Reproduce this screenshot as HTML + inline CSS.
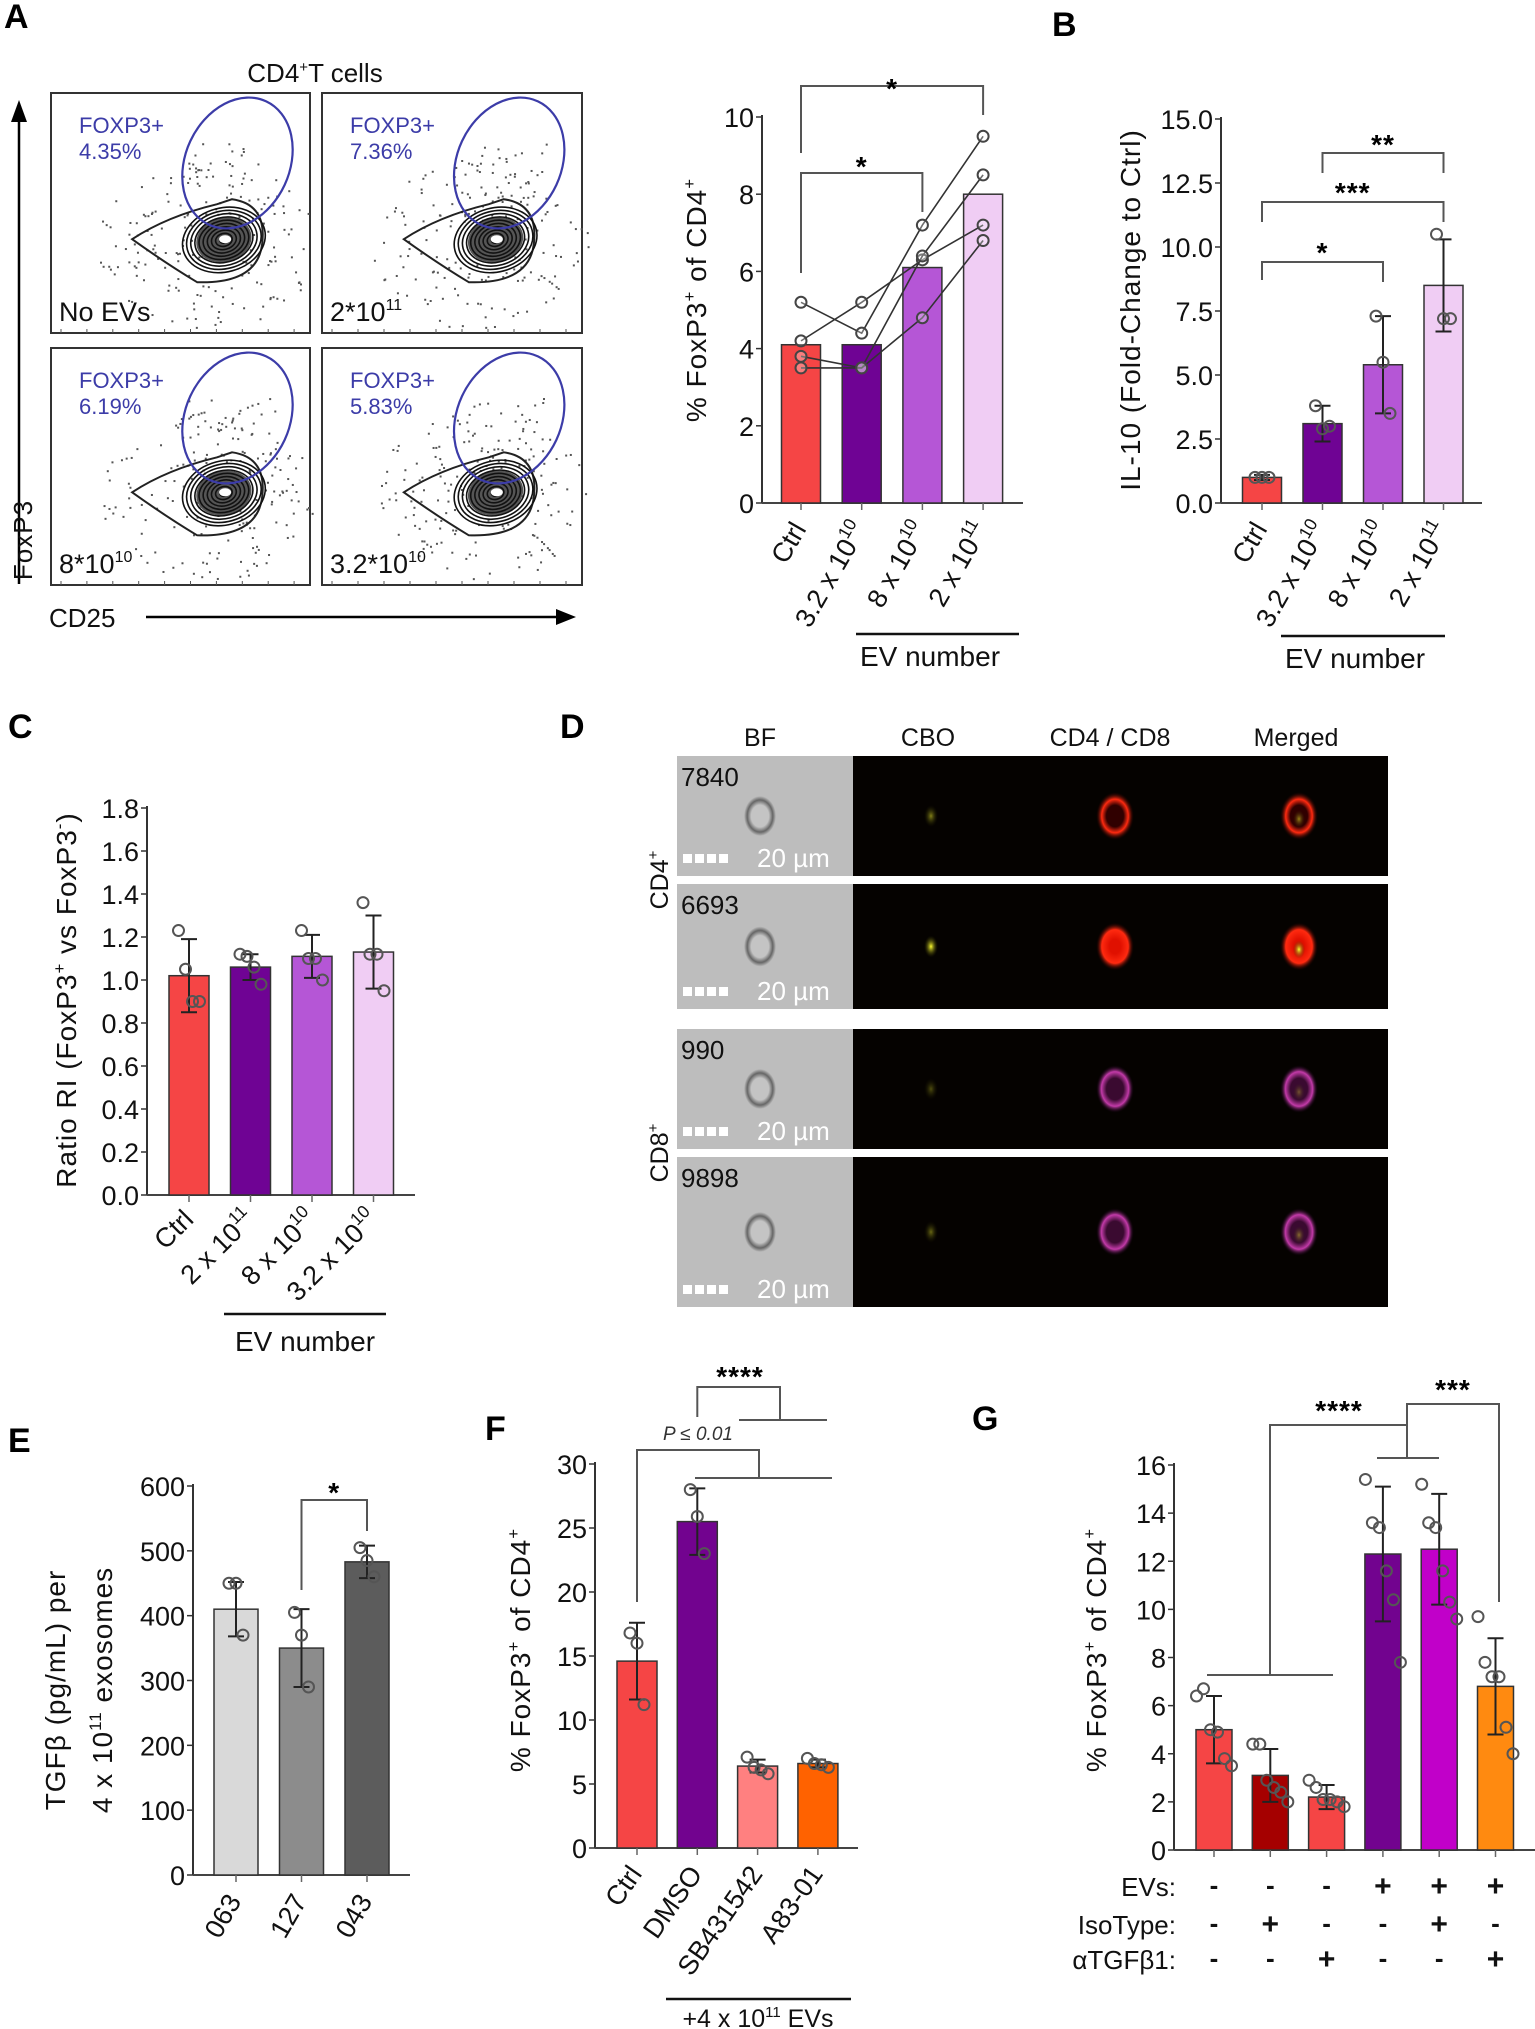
<!DOCTYPE html>
<html><head><meta charset="utf-8">
<style>
html,body{margin:0;padding:0;background:#fff;}
svg{display:block;font-family:"Liberation Sans",Arial,sans-serif;}
</style></head>
<body>
<svg id="fig" xmlns="http://www.w3.org/2000/svg" width="1535" height="2029" viewBox="0 0 1535 2029">
<defs>
<radialGradient id="gRed"><stop offset="0.45" stop-color="#300000"/><stop offset="0.7" stop-color="#ff2a10"/><stop offset="1" stop-color="#200000" stop-opacity="0"/></radialGradient>
<radialGradient id="gRedFull"><stop offset="0.3" stop-color="#e01000"/><stop offset="0.7" stop-color="#ff2a10"/><stop offset="1" stop-color="#200000" stop-opacity="0"/></radialGradient>
<radialGradient id="gMag"><stop offset="0.45" stop-color="#3a0a30"/><stop offset="0.72" stop-color="#c23aa8"/><stop offset="1" stop-color="#100010" stop-opacity="0"/></radialGradient>
<radialGradient id="gYel"><stop offset="0" stop-color="#ffff30"/><stop offset="1" stop-color="#303000" stop-opacity="0"/></radialGradient>
<radialGradient id="gBF"><stop offset="0.55" stop-color="#c4c4c4"/><stop offset="0.8" stop-color="#666"/><stop offset="1" stop-color="#bdbdbd"/></radialGradient>
</defs>
<g id="root"></g>
</svg>
<script>
// ---------- Chart data ----------
const aCats = ["Ctrl", "3.2 x 10", "8 x 10", "2 x 10"];
const aExps = ["", "10", "10", "11"];
const aMeans = [4.1, 4.1, 6.1, 8.0];
const aSubj1 = [5.2, 4.4, 7.2, 9.5];
const aSubj2 = [4.2, 5.2, 6.3, 7.2];
const aSubj3 = [3.8, 3.5, 6.4, 8.5];
const aSubj4 = [3.5, 3.5, 4.8, 6.8];
const aTicks = [0, 2, 4, 6, 8, 10];
const bCats = ["Ctrl", "3.2 x 10", "8 x 10", "2 x 10"];
const bExps = ["", "10", "10", "11"];
const bMeans = [1.0, 3.1, 5.4, 8.5];
const bErr = [0.1, 0.7, 1.9, 1.8];
const bPts = [[1.0, 1.0, 1.0], [3.8, 2.9, 3.0], [7.3, 5.5, 3.5], [10.5, 7.2, 7.2]];
const bTicks = [0, 2.5, 5, 7.5, 10, 12.5, 15];
const bTickLabels = ["0.0", "2.5", "5.0", "7.5", "10.0", "12.5", "15.0"];
const cCats = ["Ctrl", "2 x 10", "8 x 10", "3.2 x 10"];
const cExps = ["", "11", "10", "10"];
const cMeans = [1.02, 1.06, 1.11, 1.13];
const cErr = [0.17, 0.06, 0.1, 0.17];
const cPts = [[1.23, 1.05, 0.9, 0.9], [1.12, 1.11, 1.06, 0.98], [1.23, 1.1, 1.1, 1.0], [1.36, 1.12, 1.12, 0.95]];
const cTicks = [0, 0.2, 0.4, 0.6, 0.8, 1.0, 1.2, 1.4, 1.6, 1.8];
const cTickLabels = ["0.0", "0.2", "0.4", "0.6", "0.8", "1.0", "1.2", "1.4", "1.6", "1.8"];
const eCats = ["063", "127", "043"];
const eMeans = [410, 350, 483];
const eErr = [42, 60, 25];
const ePts = [[450, 450, 370], [405, 370, 290], [505, 485, 460]];
const eTicks = [0, 100, 200, 300, 400, 500, 600];
const fCats = ["Ctrl", "DMSO", "SB431542", "A83-01"];
const fMeans = [14.6, 25.5, 6.4, 6.6];
const fErr = [3.0, 2.6, 0.5, 0.3];
const fPts = [[16.8, 16.0, 11.2], [28.0, 25.9, 23.0], [7.1, 6.3, 6.1, 5.8], [7.0, 6.6, 6.5, 6.3]];
const fTicks = [0, 5, 10, 15, 20, 25, 30];
const gMeans = [5.0, 3.1, 2.2, 12.3, 12.5, 6.8];
const gErr = [1.4, 1.1, 0.5, 2.8, 2.3, 2.0];
const gPts = [[6.4, 6.7, 5.0, 4.9, 3.8, 3.5], [4.4, 4.4, 2.9, 2.6, 2.4, 2.0], [2.9, 2.6, 2.1, 2.1, 2.0, 1.8],
              [15.4, 13.6, 13.4, 11.6, 10.4, 7.8], [15.2, 13.6, 13.4, 11.6, 10.3, 9.6], [9.7, 7.8, 7.2, 7.2, 5.1, 4.0]];
const gTicks = [0, 2, 4, 6, 8, 10, 12, 14, 16];
const gEVs = ["-", "-", "-", "+", "+", "+"];
const gIso = ["-", "+", "-", "-", "+", "-"];
const gAnti = ["-", "-", "+", "-", "-", "+"];

// ---------- helpers ----------
const NS = "http://www.w3.org/2000/svg";
const root = document.getElementById("root");
const TFS = 27;
function mk(tag, attrs, parent, text) {
  const e = document.createElementNS(NS, tag);
  for (const k in attrs) e.setAttribute(k, attrs[k]);
  if (text !== undefined) e.textContent = text;
  (parent || root).appendChild(e);
  return e;
}
function group(name, parent) {
  const g = mk("g", {}, parent);
  
  
  return g;
}
function scaleY(L) { return v => L.y0 - (v - L.min) / (L.max - L.min) * (L.y0 - L.y1); }
function cx(L, i) { return L.c0 + i * L.step; }

function drawAxes(g, L, ticks, labels) {
  const y = scaleY(L);
  const ax = mk("line", {x1: L.ax, y1: y(L.max) - 2, x2: L.ax, y2: L.y0, stroke: "#333", "stroke-width": 2}, g);
  
  
  const xa = mk("line", {x1: L.ax, y1: L.y0, x2: L.right, y2: L.y0, stroke: "#444", "stroke-width": 2}, g);
  
  
  ticks.forEach((t, i) => {
    mk("line", {x1: L.ax - 6, y1: y(t), x2: L.ax, y2: y(t), stroke: "#333", "stroke-width": 1.5}, g);
    const tl = mk("text", {x: L.ax - 8, y: y(t) + 10, "text-anchor": "end", "font-size": TFS, fill: "#111"}, g, labels ? labels[i] : String(t));
    
    
  });
}
function drawBars(g, L, means, colors) {
  const y = scaleY(L);
  means.forEach((m, i) => {
    const r = mk("rect", {x: cx(L, i) - L.bw / 2, y: y(m), width: L.bw, height: L.y0 - y(m), fill: colors[i], stroke: "#333", "stroke-width": 1.5}, g);
    
    
    mk("line", {x1: cx(L, i), y1: L.y0, x2: cx(L, i), y2: L.y0 + 7, stroke: "#666", "stroke-width": 1.5}, g);
  });
}
function drawErr(g, L, means, errs) {
  const y = scaleY(L);
  means.forEach((m, i) => {
    const x = cx(L, i);
    const e = mk("path", {d: `M${x},${y(m - errs[i])}V${y(m + errs[i])}M${x - 8},${y(m + errs[i])}H${x + 8}M${x - 8},${y(m - errs[i])}H${x + 8}`, stroke: "#222", "stroke-width": 2, fill: "none"}, g);
    
    
  });
}
function drawPts(g, L, pts) {
  const y = scaleY(L);
  pts.forEach((arr, i) => {
    const n = arr.length;
    arr.forEach((v, j) => {
      const off = n > 1 ? (j - (n - 1) / 2) * 7 : 0;
      const c = mk("circle", {cx: cx(L, i) + off, cy: y(v), r: 5.5, fill: "none", stroke: "#555", "stroke-width": 2}, g);
      
      
    });
  });
}
function xLabels(g, L, cats, exps, angle, fs) {
  const f = fs || TFS;
  cats.forEach((c, i) => {
    const x = cx(L, i) + 6, yy = L.y0 + 26;
    const t = mk("text", {x: x, y: yy, "text-anchor": "end", "font-size": f, fill: "#111", transform: `rotate(${angle} ${x} ${yy})`}, g);
    
    
    mk("tspan", {}, t, c);
    if (exps && exps[i]) mk("tspan", {dy: -12, "font-size": f * 0.65}, t, exps[i]);
  });
}
function bracket(g, pts, name) {
  const p = mk("path", {d: pts, stroke: "#555", "stroke-width": 2, fill: "none"}, g);
  
  
}
function stars(g, x, y, n, name) {
  const t = mk("text", {x: x, y: y + 6, "text-anchor": "middle", "font-size": 28, "font-weight": "bold", fill: "#000", "letter-spacing": "1"}, g, "*".repeat(n));
  
  
}
function label(txt, x, y, name, fs) {
  const t = mk("text", {x: x, y: y, "font-size": fs || 34, "font-weight": "bold", fill: "#000"}, root, txt);
  
  
}
function yTitle(g, x, y, parts, fs) {
  const f = fs || 28;
  const t = mk("text", {x: x, y: y, "text-anchor": "middle", "font-size": f, fill: "#111", transform: `rotate(-90 ${x} ${y})`, "letter-spacing": "1"}, g);
  
  
  parts.forEach(p => { mk("tspan", p.sup ? {dy: -11, "font-size": f * 0.6} : (p.down ? {dy: 11} : {}), t, p.t); });
  return t;
}

label("A", 4, 28, "panel-label-a");
label("B", 1052, 36, "panel-label-b");
label("C", 8, 738, "panel-label-c");
label("D", 560, 738, "panel-label-d");
label("E", 8, 1452, "panel-label-e");
label("F", 485, 1440, "panel-label-f");
label("G", 972, 1430, "panel-label-g");

// ---------- Panel A flow plots ----------
(function () {
  const g = group("flow-cytometry-plots");
  const t = mk("text", {x: 315, y: 82, "text-anchor": "middle", "font-size": 26, fill: "#111"}, g);
  
  
  mk("tspan", {}, t, "CD4"); mk("tspan", {dy: -10, "font-size": 15}, t, "+"); mk("tspan", {dy: 10}, t, "T cells");
  const boxes = [
    {x: 51, y: 93, w: 259, h: 240, pct: "4.35%", lab: "No EVs", exp: ""},
    {x: 322, y: 93, w: 260, h: 240, pct: "7.36%", lab: "2*10", exp: "11"},
    {x: 51, y: 348, w: 259, h: 237, pct: "6.19%", lab: "8*10", exp: "10"},
    {x: 322, y: 348, w: 260, h: 237, pct: "5.83%", lab: "3.2*10", exp: "10"}
  ];
  let seed = 7;
  function rnd() { seed = (seed * 9301 + 49297) % 233280; return seed / 233280; }
  boxes.forEach((b, k) => {
    const bg = group("flow-plot-" + k, g);
    mk("rect", {x: b.x, y: b.y, width: b.w, height: b.h, fill: "#fff", stroke: "#333", "stroke-width": 2}, bg);
    for (let i = 0; i < 10; i++) {
      mk("line", {x1: b.x + 10 + i * b.w / 10, y1: b.y + b.h, x2: b.x + 10 + i * b.w / 10, y2: b.y + b.h - 4, stroke: "#555"}, bg);
    }
    const ccx = b.x + b.w * 0.68, ccy = b.y + b.h * 0.63;
    for (let i = 0; i < 160; i++) {
      const a = rnd() * 6.283, r = Math.sqrt(rnd());
      mk("rect", {x: ccx - 20 + Math.cos(a) * r * 110, y: ccy + Math.sin(a) * r * 85, width: 2, height: 2, fill: "#555"}, bg);
    }
    for (let i = 0; i < 40; i++) {
      mk("rect", {x: ccx + 5 + (rnd() - 0.5) * 90, y: b.y + 50 + rnd() * 80, width: 2, height: 2, fill: "#555"}, bg);
    }
    mk("path", {d: `M${ccx - 95},${ccy - 5} Q${ccx - 60},${ccy - 28} ${ccx - 10},${ccy - 40} L${ccx + 5},${ccy - 45} Q${ccx + 40},${ccy - 40} ${ccx + 35},${ccy} Q${ccx + 30},${ccy + 40} ${ccx - 30},${ccy + 38} Q${ccx - 60},${ccy + 20} ${ccx - 95},${ccy - 5}Z`, fill: "none", stroke: "#222", "stroke-width": 2}, bg);
    mk("ellipse", {cx: ccx - 2, cy: ccy - 5, rx: 28, ry: 22, fill: "#555", transform: `rotate(-15 ${ccx} ${ccy})`}, bg);
    for (let i = 0; i < 10; i++) {
      const rx = 42 - i * 4.2, ry = 32 - i * 3.2;
      mk("ellipse", {cx: ccx - 2, cy: ccy - 5, rx: rx, ry: ry, fill: "none", stroke: "#111", "stroke-width": 1.6, transform: `rotate(-15 ${ccx} ${ccy})`}, bg);
    }
    mk("ellipse", {cx: ccx - 2, cy: ccy - 5, rx: 6, ry: 4, fill: "#fff"}, bg);
    const gate = mk("ellipse", {cx: b.x + b.w * 0.72, cy: b.y + 70, rx: 52, ry: 68, fill: "none", stroke: "#3c3ca8", "stroke-width": 2.2, transform: `rotate(25 ${b.x + b.w * 0.72} ${b.y + 70})`}, bg);
    
    
    const t1 = mk("text", {x: b.x + 28, y: b.y + 40, "font-size": 22, fill: "#3c3ca8"}, bg, "FOXP3+");
    
    
    const t2 = mk("text", {x: b.x + 28, y: b.y + 66, "font-size": 22, fill: "#3c3ca8"}, bg, b.pct);
    
    
    const t3 = mk("text", {x: b.x + 8, y: b.y + b.h - 12, "font-size": 27, fill: "#111"}, bg);
    
    
    mk("tspan", {}, t3, b.lab);
    if (b.exp) mk("tspan", {dy: -11, "font-size": 16}, t3, b.exp);
  });
  mk("line", {x1: 19, y1: 584, x2: 19, y2: 120, stroke: "#000", "stroke-width": 2.5}, g);
  mk("path", {d: "M11,122 L19,100 L27,122Z", fill: "#000"}, g);
  const fy = mk("text", {x: 32, y: 540, "font-size": 26, fill: "#111", "letter-spacing": "1", transform: "rotate(-90 32 540)", "text-anchor": "middle"}, g, "FoxP3");
  
  
  const cd = mk("text", {x: 49, y: 627, "font-size": 26, fill: "#111"}, g, "CD25");
  
  
  mk("line", {x1: 146, y1: 617, x2: 558, y2: 617, stroke: "#000", "stroke-width": 2.5}, g);
  mk("path", {d: "M556,609 L576,617 L556,625Z", fill: "#000"}, g);
})();

// ---------- Panel A bar chart ----------
(function () {
  const g = group("chart-a-foxp3");
  const L = {ax: 762, y0: 503, y1: 117, min: 0, max: 10, c0: 801, step: 60.7, bw: 39, right: 1023};
  drawAxes(g, L, aTicks);
  drawBars(g, L, aMeans, ["#f54545", "#6f0394", "#b556d6", "#f0cdf4"]);
  const y = scaleY(L);
  [aSubj1, aSubj2, aSubj3, aSubj4].forEach((s, k) => {
    const d = s.map((v, i) => (i ? "L" : "M") + cx(L, i) + "," + y(v)).join("");
    const p = mk("path", {d: d, stroke: "#333", "stroke-width": 1.6, fill: "none"}, g);
    
    
    s.forEach((v, i) => {
      const c = mk("circle", {cx: cx(L, i), cy: y(v), r: 5.5, fill: "#fff", "fill-opacity": 0.3, stroke: "#444", "stroke-width": 2}, g);
      
      
    });
  });
  bracket(g, `M${cx(L,0)},273V173H${cx(L,2)}V212`, "sig-bracket-ctrl-8e10");
  stars(g, (cx(L,0) + cx(L,2)) / 2, 170, 1, "sig-stars");
  bracket(g, `M${cx(L,0)},153V86H${cx(L,3)}V115`, "sig-bracket-ctrl-2e11");
  stars(g, (cx(L,0) + cx(L,3)) / 2, 92, 1, "sig-stars");
  yTitle(g, 706, 300, [{t: "% FoxP3"}, {t: "+", sup: 1}, {t: " of CD4", down: 1}, {t: "+", sup: 1}]);
  xLabels(g, L, aCats, aExps, -60);
  mk("line", {x1: 856, y1: 634, x2: 1019, y2: 634, stroke: "#111", "stroke-width": 2.5}, g);
  const ev = mk("text", {x: 930, y: 666, "text-anchor": "middle", "font-size": 28, fill: "#111"}, g, "EV number");
  
  
})();

// ---------- Panel B ----------
(function () {
  const g = group("chart-b-il10");
  const L = {ax: 1221, y0: 503, y1: 119, min: 0, max: 15, c0: 1262, step: 60.5, bw: 39, right: 1482};
  drawAxes(g, L, bTicks, bTickLabels);
  drawBars(g, L, bMeans, ["#f54545", "#6f0394", "#b556d6", "#f0cdf4"]);
  drawErr(g, L, bMeans, bErr);
  drawPts(g, L, bPts);
  bracket(g, `M${cx(L,0)},280V262H${cx(L,2)}V282`, "sig-bracket");
  stars(g, (cx(L,0) + cx(L,2)) / 2, 256, 1, "sig-stars");
  bracket(g, `M${cx(L,0)},222V202H${cx(L,3)}V222`, "sig-bracket");
  stars(g, (cx(L,0) + cx(L,3)) / 2, 196, 3, "sig-stars");
  bracket(g, `M${cx(L,1)},173V153H${cx(L,3)}V173`, "sig-bracket");
  stars(g, (cx(L,1) + cx(L,3)) / 2, 148, 2, "sig-stars");
  yTitle(g, 1140, 310, [{t: "IL-10 (Fold-Change to Ctrl)"}]);
  xLabels(g, L, bCats, bExps, -60);
  mk("line", {x1: 1281, y1: 636, x2: 1445, y2: 636, stroke: "#111", "stroke-width": 2.5}, g);
  const ev = mk("text", {x: 1355, y: 668, "text-anchor": "middle", "font-size": 28, fill: "#111"}, g, "EV number");
  
  
})();

// ---------- Panel C ----------
(function () {
  const g = group("chart-c-ratio");
  const L = {ax: 147, y0: 1195, y1: 808, min: 0, max: 1.8, c0: 189, step: 61.5, bw: 40, right: 415};
  drawAxes(g, L, cTicks, cTickLabels);
  drawBars(g, L, cMeans, ["#f54545", "#6f0394", "#b556d6", "#f0cdf4"]);
  drawErr(g, L, cMeans, cErr);
  drawPts(g, L, cPts);
  yTitle(g, 76, 1000, [{t: "Ratio RI (FoxP3"}, {t: "+", sup: 1}, {t: " vs FoxP3", down: 1}, {t: "-", sup: 1}, {t: ")", down: 1}]);
  xLabels(g, L, cCats, cExps, -45);
  mk("line", {x1: 224, y1: 1314, x2: 386, y2: 1314, stroke: "#111", "stroke-width": 2.5}, g);
  const ev = mk("text", {x: 305, y: 1351, "text-anchor": "middle", "font-size": 28, fill: "#111"}, g, "EV number");
  
  
})();

// ---------- Panel D ----------
(function () {
  const g = group("imaging-panel-d");
  const heads = [["BF", 760], ["CBO", 928], ["CD4 / CD8", 1110], ["Merged", 1296]];
  heads.forEach(h => {
    const t = mk("text", {x: h[1], y: 746, "text-anchor": "middle", "font-size": 25, fill: "#111"}, g, h[0]);
    
    
  });
  const rows = [
    {y: 756, h: 120, id: "7840", mag: false, full: false, yel: 0.5},
    {y: 884, h: 125, id: "6693", mag: false, full: true, yel: 1},
    {y: 1029, h: 120, id: "990", mag: true, full: false, yel: 0.3},
    {y: 1157, h: 150, id: "9898", mag: true, full: false, yel: 0.4}
  ];
  rows.forEach((r) => {
    const rg = group("image-row-" + r.id, g);
    mk("rect", {x: 677, y: r.y, width: 711, height: r.h, fill: "#050200"}, rg);
    mk("rect", {x: 677, y: r.y, width: 176, height: r.h, fill: "#bdbdbd"}, rg);
    const cyy = r.y + r.h * 0.5;
    mk("ellipse", {cx: 760, cy: cyy, rx: 16, ry: 20, fill: "url(#gBF)"}, rg);
    mk("ellipse", {cx: 931, cy: cyy, rx: 7, ry: 11, fill: "url(#gYel)", opacity: r.yel}, rg);
    const fill = r.mag ? "url(#gMag)" : (r.full ? "url(#gRedFull)" : "url(#gRed)");
    mk("ellipse", {cx: 1115, cy: cyy, rx: 19, ry: 24, fill: fill}, rg);
    mk("ellipse", {cx: 1299, cy: cyy, rx: 19, ry: 24, fill: fill}, rg);
    mk("ellipse", {cx: 1299, cy: cyy + 3, rx: 6, ry: 9, fill: "url(#gYel)", opacity: r.yel}, rg);
    const idt = mk("text", {x: 681, y: r.y + 30, "font-size": 26, fill: "#111"}, rg, r.id);
    
    
    for (let i = 0; i < 4; i++) mk("rect", {x: 683 + i * 12, y: r.y + r.h - 22, width: 9, height: 9, fill: "#fff"}, rg);
    const sb = mk("text", {x: 757, y: r.y + r.h - 9, "font-size": 26, fill: "#fff"}, rg, "20 µm");
    
    
  });
  [["CD4", 880], ["CD8", 1153]].forEach(c => {
    const t = mk("text", {x: 668, y: c[1], "text-anchor": "middle", "font-size": 25, fill: "#111", transform: `rotate(-90 668 ${c[1]})`}, g);
    
    
    mk("tspan", {}, t, c[0]); mk("tspan", {dy: -10, "font-size": 15}, t, "+");
  });
})();

// ---------- Panel E ----------
(function () {
  const g = group("chart-e-tgfb");
  const L = {ax: 193, y0: 1875, y1: 1486, min: 0, max: 600, c0: 236, step: 65.5, bw: 44, right: 410};
  drawAxes(g, L, eTicks);
  drawBars(g, L, eMeans, ["#d9d9d9", "#8c8c8c", "#5c5c5c"]);
  drawErr(g, L, eMeans, eErr);
  drawPts(g, L, ePts);
  bracket(g, `M${cx(L,1)},1590V1500H${cx(L,2)}V1531`, "sig-bracket");
  stars(g, (cx(L,1) + cx(L,2)) / 2, 1496, 1, "sig-stars");
  const t1 = mk("text", {x: 65, y: 1690, "text-anchor": "middle", "font-size": 28, fill: "#111", "letter-spacing": "1", transform: "rotate(-90 65 1690)"}, g, "TGFβ (pg/mL) per");
  
  
  const t2 = mk("text", {x: 112, y: 1690, "text-anchor": "middle", "font-size": 28, fill: "#111", "letter-spacing": "1", transform: "rotate(-90 112 1690)"}, g);
  
  
  mk("tspan", {}, t2, "4 x 10"); mk("tspan", {dy: -11, "font-size": 17}, t2, "11"); mk("tspan", {dy: 11}, t2, " exosomes");
  xLabels(g, L, eCats, null, -60);
})();

// ---------- Panel F ----------
(function () {
  const g = group("chart-f-foxp3");
  const L = {ax: 595, y0: 1848, y1: 1464, min: 0, max: 30, c0: 637, step: 60.3, bw: 40, right: 858};
  drawAxes(g, L, fTicks);
  drawBars(g, L, fMeans, ["#f54545", "#72038f", "#ff8080", "#ff6200"]);
  drawErr(g, L, fMeans, fErr);
  drawPts(g, L, fPts);
  bracket(g, `M${cx(L,0)},1602V1450H759V1478M695,1478H832`, "sig-bracket-p001");
  const pt = mk("text", {x: 698, y: 1440, "text-anchor": "middle", "font-size": 19, "font-style": "italic", fill: "#333"}, g, "P ≤ 0.01");
  
  
  bracket(g, `M${cx(L,1)},1417V1387H780V1420M739,1420H827`, "sig-bracket-dmso");
  stars(g, 740, 1380, 4, "sig-stars");
  yTitle(g, 530, 1650, [{t: "% FoxP3"}, {t: "+", sup: 1}, {t: " of CD4", down: 1}, {t: "+", sup: 1}]);
  xLabels(g, L, fCats, null, -55);
  mk("line", {x1: 666, y1: 1999, x2: 851, y2: 1999, stroke: "#111", "stroke-width": 2.5}, g);
  const ev = mk("text", {x: 758, y: 2027, "text-anchor": "middle", "font-size": 25, fill: "#111"}, g);
  
  
  mk("tspan", {}, ev, "+4 x 10"); mk("tspan", {dy: -10, "font-size": 15}, ev, "11"); mk("tspan", {dy: 10}, ev, " EVs");
})();

// ---------- Panel G ----------
(function () {
  const g = group("chart-g-foxp3");
  const L = {ax: 1174, y0: 1850, y1: 1465, min: 0, max: 16, c0: 1214, step: 56.3, bw: 36, right: 1535};
  drawAxes(g, L, gTicks);
  drawBars(g, L, gMeans, ["#f54545", "#a50000", "#f54545", "#72038f", "#c100c9", "#ff8a10"]);
  drawErr(g, L, gMeans, gErr);
  drawPts(g, L, gPts);
  bracket(g, `M1207,1675H1333M1270,1675V1425H1407V1458M1377,1458H1439`, "sig-bracket-evs");
  stars(g, 1339, 1414, 4, "sig-stars");
  bracket(g, `M1407,1425V1404H1499V1602`, "sig-bracket-antibody");
  stars(g, 1453, 1393, 3, "sig-stars");
  yTitle(g, 1106, 1650, [{t: "% FoxP3"}, {t: "+", sup: 1}, {t: " of CD4", down: 1}, {t: "+", sup: 1}]);
  const rowsY = [1896, 1934, 1969];
  const rowLab = ["EVs:", "IsoType:", "αTGFβ1:"];
  [gEVs, gIso, gAnti].forEach((arr, r) => {
    const lt = mk("text", {x: 1176, y: rowsY[r], "text-anchor": "end", "font-size": 26, fill: "#111"}, g, rowLab[r]);
    
    
    arr.forEach((s, i) => {
      const st = mk("text", {x: cx(L, i), y: rowsY[r] - (s === "+" ? 0 : 2), "text-anchor": "middle", "font-size": s === "+" ? 30 : 26, "font-weight": "bold", fill: "#111"}, g, s);
      
      
    });
  });
})();
</script>
</body></html>
